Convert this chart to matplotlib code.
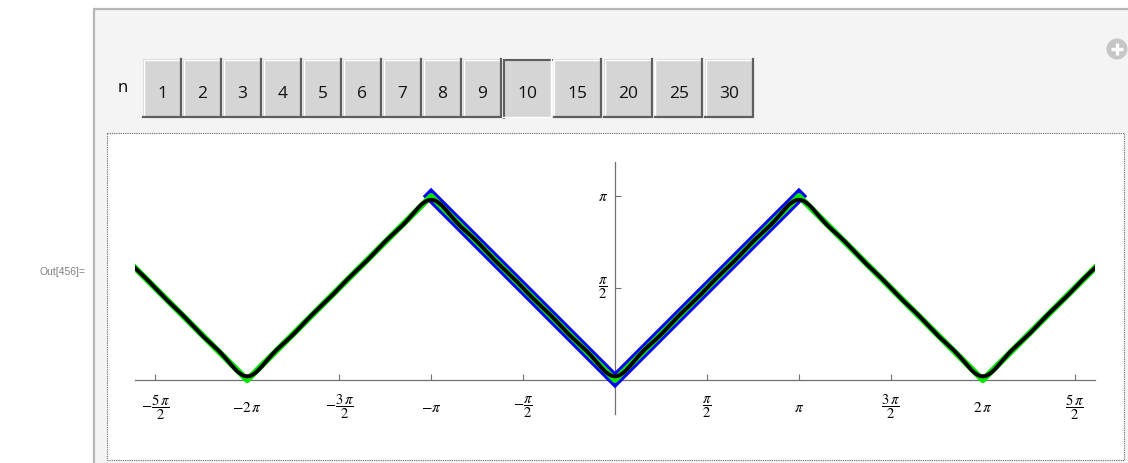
import numpy as np
import matplotlib
matplotlib.use('Agg')
import matplotlib.pyplot as plt
from matplotlib.patches import Rectangle, Circle

plt.rcParams['mathtext.fontset'] = 'stix'

# Manipulate control: available n values, the selected one
n_choices = [1, 2, 3, 4, 5, 6, 7, 8, 9, 10, 15, 20, 25, 30]
n_selected = 10

# Triangle wave |x| (period 2*pi) as a polyline over the plotted range
tri_x = [-8.2, -2 * np.pi, -np.pi, 0.0, np.pi, 2 * np.pi, 8.2]
tri_y = [1.917, 0.0, np.pi, 0.0, np.pi, 0.0, 1.917]

# One period of |x| on [-pi, pi]
period_x = [-np.pi, 0.0, np.pi]
period_y = [np.pi, 0.0, np.pi]

# Fourier cosine coefficients of the partial sum (n = 10)
a0 = 1.5708
cos_coef = [-1.2732, 0.0, -0.1415, 0.0, -0.0509, 0.0, -0.0260, 0.0, -0.0157, 0.0]

xtick_vals = [-2.5 * np.pi, -2 * np.pi, -1.5 * np.pi, -np.pi, -0.5 * np.pi,
              0.5 * np.pi, np.pi, 1.5 * np.pi, 2 * np.pi, 2.5 * np.pi]
xtick_labels = [r'$-\dfrac{5\,\pi}{2}$', r'$-2\,\pi$', r'$-\dfrac{3\,\pi}{2}$', r'$-\pi$',
                r'$-\dfrac{\pi}{2}$', r'$\dfrac{\pi}{2}$', r'$\pi$', r'$\dfrac{3\,\pi}{2}$',
                r'$2\,\pi$', r'$\dfrac{5\,\pi}{2}$']
ytick_vals = [0.5 * np.pi, np.pi]
ytick_labels = [r'$\dfrac{\pi}{2}$', r'$\pi$']

W, H = 1128, 463
fig = plt.figure(figsize=(W / 100, H / 100), dpi=100)
fig.patch.set_facecolor('white')

# pixel-space layer for the notebook chrome
bg = fig.add_axes([0, 0, 1, 1])
bg.set_xlim(0, W)
bg.set_ylim(H, 0)
bg.axis('off')

bg.add_patch(Rectangle((93, 8), W - 93, H - 8, fc='#f4f4f4', ec='none'))
bg.plot([94, 94], [8, H], color='#b6b6b6', lw=1.6, solid_capstyle='butt')
bg.plot([93, W], [9, 9], color='#b6b6b6', lw=1.6, solid_capstyle='butt')

bg.text(86, 272, 'Out[456]=', ha='right', va='center', fontsize=7.5,
        color='#808080', family='Liberation Sans')

# plus icon in the corner
bg.add_patch(Circle((1117, 49), 10.5, fc='#c6c6c6', ec='none'))
bg.plot([1111, 1123], [49, 49], color='white', lw=2.4, solid_capstyle='butt')
bg.plot([1117, 1117], [43, 55], color='white', lw=2.4, solid_capstyle='butt')

bg.text(123, 88, 'n', ha='center', va='center', fontsize=12, family='Open Sans')

# setter bar buttons
top, bot = 59, 118
x = 143
for n in n_choices:
    w = 39 if n < 10 else 48.5
    pressed = (n == n_selected)
    bg.add_patch(Rectangle((x, top), w, bot - top, fc='#d5d5d5', ec='none'))
    light, dark = '#ffffff', '#5e5e5e'
    tl, br = (dark, light) if pressed else (light, dark)
    bg.plot([x + 0.5, x + 0.5, x + w], [bot, top + 0.5, top + 0.5], color=tl,
            lw=1.5 if pressed else 1.0, solid_joinstyle='miter')
    bg.plot([x, x + w - 1, x + w - 1], [bot - 1, bot - 1, top], color=br,
            lw=1.0 if pressed else 1.6, solid_joinstyle='miter')
    bg.text(x + w / 2, 94, str(n), ha='center', va='center', fontsize=12.5,
            family='Open Sans', color='#111111')
    x += w + (1 if n < 10 else 2)

# white plot frame with dotted border
bg.add_patch(Rectangle((107, 133), 1124 - 107, 460 - 133, fc='white',
                       ec='#666666', lw=0.8, ls=(0, (1, 1))))

# plot axes, equal scale (pi ~ 184 px both ways)
px_left, px_right = 135, 1095
px_top, px_bot = 162, 414
px_zero = 380
scale = (px_right - px_left) / 16.4
ax = fig.add_axes([px_left / W, 1 - px_bot / H,
                   (px_right - px_left) / W, (px_bot - px_top) / H])
ax.patch.set_alpha(0)
ax.set_xlim(-8.2, 8.2)
ax.set_ylim(-(px_bot - px_zero) / scale, (px_zero - px_top) / scale)

for side in ['top', 'right']:
    ax.spines[side].set_visible(False)
for side in ['left', 'bottom']:
    ax.spines[side].set_position(('data', 0))
    ax.spines[side].set_color('#707070')
    ax.spines[side].set_linewidth(0.9)
    ax.spines[side].set_zorder(1)

ax.set_xticks(xtick_vals, [''] * len(xtick_vals))
ax.set_yticks(ytick_vals, [''] * len(ytick_vals))
ax.tick_params(direction='in', length=4, width=0.8, color='#707070')

for v, lab in zip(xtick_vals, xtick_labels):
    frac = 'frac' in lab
    ax.text(v, -27 / scale, lab, ha='center', va='center',
            fontsize=10.5 if frac else 11)
for v, lab in zip(ytick_vals, ytick_labels):
    frac = 'frac' in lab
    ax.text(-12 / scale, v, lab, ha='center', va='center',
            fontsize=10.5 if frac else 11)

xs = np.linspace(-8.2, 8.2, 2000)
partial = a0 + sum(c * np.cos((k + 1) * xs) for k, c in enumerate(cos_coef))

ax.plot(period_x, period_y, color='#0000ff', lw=8.5, solid_joinstyle='miter',
        solid_capstyle='projecting', zorder=3)
ax.plot(tri_x, tri_y, color='#00e600', lw=4.4, solid_joinstyle='round', zorder=4)
ax.plot(xs, partial, color='black', lw=2.8, zorder=5)

fig.savefig('out.png', dpi=100)
